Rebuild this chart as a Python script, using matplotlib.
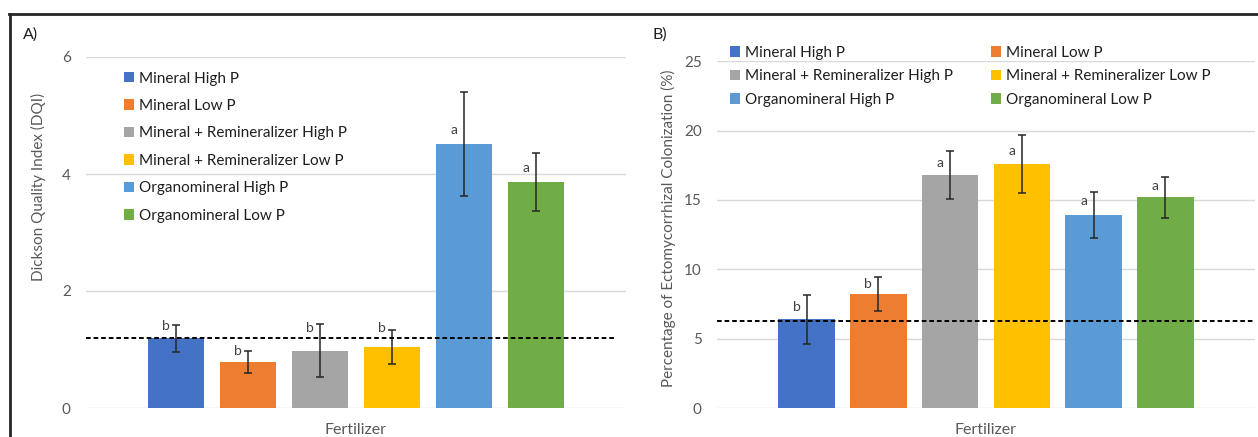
import matplotlib
matplotlib.use("Agg")
import matplotlib.pyplot as plt
import matplotlib.transforms as mtransforms
from matplotlib.patches import Patch
from matplotlib.lines import Line2D

plt.rcParams['font.family'] = ['Lato', 'DejaVu Sans']

# ---------------- data ----------------
treatments = ["Mineral High P", "Mineral Low P", "Mineral + Remineralizer High P",
              "Mineral + Remineralizer Low P", "Organomineral High P", "Organomineral Low P"]
colors = ["#4472C4", "#ED7D31", "#A5A5A5", "#FFC000", "#5B9BD5", "#70AD47"]

dqi_mean = [1.19, 0.79, 0.98, 1.04, 4.51, 3.86]
dqi_err = [0.23, 0.19, 0.45, 0.29, 0.89, 0.50]
dqi_letters = ["b", "b", "b", "b", "a", "a"]
dqi_letter_y = [1.40, 0.98, 1.37, 1.37, 4.76, 4.11]
dqi_ref = 1.19

ecm_mean = [6.4, 8.2, 16.8, 17.6, 13.9, 15.2]
ecm_err = [1.75, 1.24, 1.73, 2.07, 1.67, 1.47]
ecm_letters = ["b", "b", "a", "a", "a", "a"]
ecm_letter_y = [7.28, 8.94, 17.64, 18.53, 14.92, 16.0]
ecm_ref = 6.3

W, H = 1258, 437
fig = plt.figure(figsize=(W / 100, H / 100), dpi=100)

def fx(px):
    return px / W

def fy(py):
    return 1 - py / H

TICK_C = "#595959"
TEXT_C = "#1F1F1F"
GRID_C = "#D9D9D9"
FS = 11

def make_panel(rect, means, errs, letters, letter_y, ref, ylim, yticks, ref_end):
    ax = fig.add_axes(rect)
    x = list(range(len(means)))
    ax.bar(x, means, width=0.79, color=colors, zorder=2)
    ax.errorbar(x, means, yerr=errs, fmt='none', ecolor='#262626',
                elinewidth=1.1, capsize=3, capthick=1.1, zorder=3)
    for xi, lt, ly in zip(x, letters, letter_y):
        ax.text(xi - 0.14, ly, lt, ha='center', va='center', fontsize=10,
                color='#404040', zorder=4)
    trans = mtransforms.blended_transform_factory(ax.transAxes, ax.transData)
    ax.plot([0, ref_end], [ref, ref], transform=trans, color='black', lw=1.4,
            linestyle=(0, (2.4, 1.5)), zorder=5)
    ax.set_xlim(-1.25, 6.25)
    ax.set_ylim(*ylim)
    ax.set_yticks(yticks)
    ax.set_xticks([])
    ax.grid(axis='y', color=GRID_C, lw=1, zorder=0)
    for s in ax.spines.values():
        s.set_visible(False)
    ax.tick_params(axis='y', length=0, pad=11, labelsize=11, labelcolor=TICK_C)
    return ax

axA = make_panel([fx(86), fy(408), fx(626 - 86), fy(57) - fy(408)],
                 dqi_mean, dqi_err, dqi_letters, dqi_letter_y, dqi_ref,
                 (0, 6), [0, 2, 4, 6], 0.982)
axB = make_panel([fx(717), fy(408), fx(1255 - 717), fy(61.3) - fy(408)],
                 ecm_mean, ecm_err, ecm_letters, ecm_letter_y, ecm_ref,
                 (0, 25), [0, 5, 10, 15, 20, 25], 0.997)

handles = [Patch(facecolor=c, edgecolor='none') for c in colors]

legA = axA.legend(handles, treatments, loc='upper left', frameon=False,
                  bbox_to_anchor=(fx(124), fy(71.5)), bbox_transform=fig.transFigure,
                  fontsize=FS, handlelength=0.66, handleheight=0.66,
                  handletextpad=0.3, labelspacing=0.88, borderpad=0,
                  borderaxespad=0, labelcolor=TEXT_C)

order = [0, 2, 4, 1, 3, 5]
legB = axB.legend([handles[i] for i in order], [treatments[i] for i in order],
                  ncol=2, loc='upper left', frameon=False,
                  bbox_to_anchor=(fx(730), fy(45.8)), bbox_transform=fig.transFigure,
                  fontsize=FS, handlelength=0.66, handleheight=0.66,
                  handletextpad=0.3, labelspacing=0.62, columnspacing=2.5,
                  borderpad=0, borderaxespad=0, labelcolor=TEXT_C)

# axis titles
fig.text(fx(38), fy(186.5), "Dickson Quality Index (DQI)", rotation=90,
         ha='center', va='center', fontsize=FS, color=TICK_C)
fig.text(fx(668), fy(228.5), "Percentage of Ectomycorrhizal Colonization (%)", rotation=90,
         ha='center', va='center', fontsize=FS, color=TICK_C)
fig.text(fx(356), fy(430), "Fertilizer", ha='center', va='center', fontsize=11.5, color=TICK_C)
fig.text(fx(986), fy(430), "Fertilizer", ha='center', va='center', fontsize=11.5, color=TICK_C)

# panel labels
fig.text(fx(23), fy(35), "A)", ha='left', va='center', fontsize=11.5, color=TEXT_C)
fig.text(fx(652), fy(35), "B)", ha='left', va='center', fontsize=11.5, color=TEXT_C)

# frame
fig.add_artist(Line2D([fx(9), 1.0], [fy(14), fy(14)], transform=fig.transFigure,
                      color='#262626', lw=2))
fig.add_artist(Line2D([fx(10), fx(10)], [fy(14), 0], transform=fig.transFigure,
                      color='#262626', lw=2))

fig.savefig("out.png", dpi=100)
